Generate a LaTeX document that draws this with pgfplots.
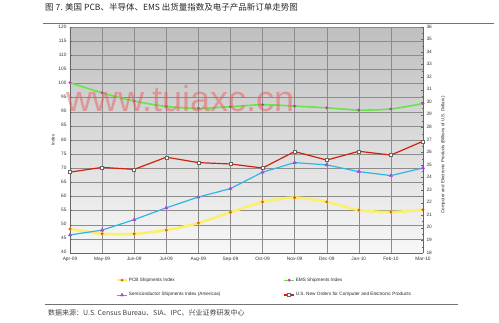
\documentclass[border=0pt]{standalone}
\usepackage{fontspec}
\setmainfont{Liberation Sans}
\newfontfamily\cjk{Noto Sans CJK SC}
\usepackage{pgfplots}
\pgfplotsset{compat=1.18}
\definecolor{pcbline}{RGB}{250,240,110}
\definecolor{pcbmark}{RGB}{225,90,20}
\definecolor{emsline}{RGB}{100,230,70}
\definecolor{emsmark}{RGB}{200,50,200}
\definecolor{semiline}{RGB}{50,180,230}
\definecolor{semimark}{RGB}{170,70,220}
\definecolor{ordline}{RGB}{205,35,15}
\definecolor{wm}{RGB}{235,90,90}
\pgfplotsset{
  pcbstyle/.style={color=pcbline, line width=2.6pt, smooth, mark=*, mark size=1.3pt, mark options={fill=pcbmark, draw=pcbmark, line width=0.3pt}},
  emsstyle/.style={color=emsline, line width=1.6pt, smooth, mark=*, mark size=1.3pt, mark options={fill=emsmark, draw=emsmark, line width=0.3pt}},
  semistyle/.style={color=semiline, line width=1.2pt, mark=triangle*, mark size=2pt, mark options={fill=semimark, draw=semimark, line width=0.3pt}},
  ordstyle/.style={color=ordline, line width=1.2pt, mark=square*, mark size=1.5pt, mark options={fill=white, draw=black!60, line width=0.4pt}},
  common/.style={scale only axis, width=353pt, height=226pt, at={(70pt,69pt)}, anchor=south west,
    xmin=0, xmax=11, clip=false,
    tick label style={font=\fontsize{4.8}{5}\selectfont, text=black!80},
    typeset ticklabels with strut,
    label style={font=\fontsize{4.5}{5}\selectfont, text=black!85},
    /pgf/number format/assume math mode=true,
    tick style={black!60, line width=0.4pt}, major tick length=2pt, minor tick length=1.2pt,
    axis line style={black!60, line width=0.8pt}},
}
\begin{document}
\begin{tikzpicture}
\path[use as bounding box] (0,0) rectangle (499pt,322pt);
\node[anchor=base west, inner sep=0pt, text=black!85] at (45pt,311pt) {\cjk\fontsize{8.5}{9}\selectfont 图 7. 美国 PCB、半导体、EMS 出货量指数及电子产品新订单走势图};
\draw[black!55, line width=0.6pt] (43pt,299pt) -- (494pt,299pt);
\draw[black!55, line width=0.6pt] (45pt,18pt) -- (458pt,18pt);
\node[anchor=base west, inner sep=0pt, text=black!75] at (48pt,6.5pt) {\cjk\fontsize{7}{7.5}\selectfont 数据来源：U.S. Census Bureau、SIA、IPC、兴业证券研发中心};

\begin{axis}[common,
  ymin=40, ymax=120, ytick={40,45,...,120},
  xtick={0,...,11},
  xticklabels={Apr-09,May-09,Jun-09,Jul-09,Aug-09,Sep-09,Oct-09,Nov-09,Dec-09,Jan-10,Feb-10,Mar-10},
  xmajorgrids, ymajorgrids, grid style={black!45, line width=0.45pt},
  axis y line*=left, axis x line*=bottom, x axis line style={-}, y axis line style={-},
  xtick style={draw=none},
  ylabel={Index}, ylabel style={at={(axis description cs:-0.048,0.5)}, anchor=center},
  axis background/.style={top color=black!25, bottom color=black!3},
]
\addplot[pcbstyle] coordinates {(0,48.5)(1,46.8)(2,46.8)(3,48.1)(4,50.6)(5,54.4)(6,58.1)(7,59.6)(8,58.1)(9,55.2)(10,54.5)(11,55.3)};
\addplot[emsstyle] coordinates {(0,100.3)(1,96.7)(2,93.8)(3,91.9)(4,91.2)(5,91.8)(6,92.5)(7,92.0)(8,91.4)(9,90.6)(10,91.0)(11,92.9)};
\addplot[semistyle] coordinates {(0,46.4)(1,48.1)(2,51.8)(3,56.0)(4,59.8)(5,62.8)(6,68.6)(7,72.0)(8,71.2)(9,68.8)(10,67.4)(11,70.1)};
\end{axis}

\begin{axis}[common,
  ymin=18, ymax=36, ytick={18,...,36}, minor y tick num=1,
  axis y line*=right, axis x line=none, y axis line style={-},
  ylabel={Computer and Electronic Products (Billions of U.S. Dollars)},
  ylabel style={at={(axis description cs:1.057,0.434)}, anchor=center},
  legend columns=2,
  legend image code/.code={\draw[mark repeat=2, mark phase=2, #1] plot coordinates {(0pt,0pt)(5pt,0pt)(10pt,0pt)};},
  legend style={draw=none, fill=none, at={(axis description cs:0.122,-0.095)}, anchor=north west,
    font=\fontsize{4.7}{5}\selectfont, text=black!85, row sep=8pt,
    nodes={inner xsep=1pt, inner ysep=1pt},
    /tikz/every even column/.append style={column sep=62pt}},
  legend cell align=left,
]
\addlegendimage{pcbstyle, line width=1.6pt}
\addlegendentry{PCB Shipments Index}
\addlegendimage{emsstyle, line width=1.2pt}
\addlegendentry{EMS Shipments Index}
\addlegendimage{semistyle, line width=1pt}
\addlegendentry{Semiconductor Shipments Index (Americas)}
\addplot[ordstyle] coordinates {(0,24.44)(1,24.82)(2,24.66)(3,25.63)(4,25.20)(5,25.09)(6,24.77)(7,26.08)(8,25.40)(9,26.10)(10,25.80)(11,26.90)};
\addlegendentry{U.S. New Orders for Computer and Electronic Products}
\end{axis}

\node[anchor=base west, inner sep=0pt, text=wm, opacity=0.5] at (66pt,210pt) {\fontsize{36}{40}\selectfont www.tuiaxc.cn};
\end{tikzpicture}
\end{document}
